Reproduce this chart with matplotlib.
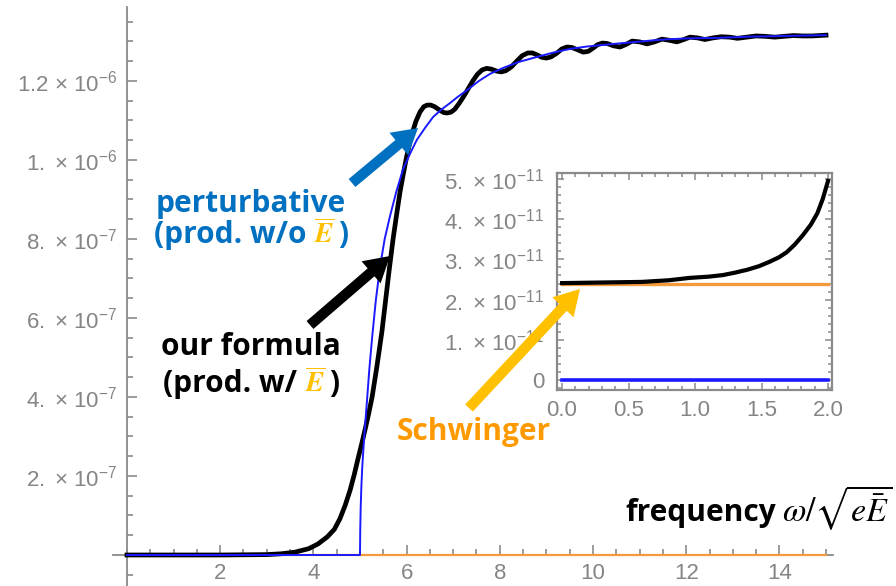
import matplotlib
matplotlib.use("Agg")
import matplotlib.pyplot as plt
import numpy as np
from matplotlib.patches import FancyArrowPatch
from matplotlib.ticker import FixedLocator, FixedFormatter, MultipleLocator

# ---------------------------------------------------------------- data
# pair-production rate vs. frequency omega/sqrt(eE)
formula_x = [0.0, 1.0, 2.0, 3.0, 3.3, 3.6, 3.9, 4.1, 4.3, 4.45, 4.57, 4.68,
             4.79, 4.88, 4.96, 5.04, 5.11, 5.19, 5.26, 5.36, 5.47, 5.55,
             5.63, 5.71, 5.79, 5.86, 5.93, 6.0, 6.1, 6.2, 6.29, 6.37, 6.44,
             6.52, 6.6, 6.7, 6.8, 6.87, 6.95, 7.03, 7.12, 7.22, 7.32, 7.42,
             7.52, 7.62, 7.72, 7.82, 7.93, 8.03, 8.13, 8.25, 8.37, 8.48, 8.6,
             8.7, 8.8, 8.9, 9.0, 9.1, 9.22, 9.33, 9.44, 9.54, 9.65, 9.79, 9.9,
             10.0, 10.1, 10.2, 10.3, 10.44, 10.58, 10.7, 10.84, 11.0, 11.16,
             11.32, 11.48, 11.64, 11.8, 11.95, 12.08, 12.25, 12.4, 12.57,
             12.75, 12.93, 13.1, 13.3, 13.5, 13.7, 13.9, 14.1, 14.3, 14.5,
             14.7, 15.0]
formula_y = [0.0, 0.0, 0.0, 0.001, 0.003, 0.007, 0.016, 0.028, 0.046, 0.065,
             0.092, 0.125, 0.165, 0.205, 0.245, 0.283, 0.318, 0.36, 0.40,
             0.475, 0.565, 0.645, 0.725, 0.80, 0.865, 0.92, 0.965, 1.008,
             1.06, 1.098, 1.122, 1.135, 1.139, 1.139, 1.135, 1.127, 1.12,
             1.119, 1.121, 1.128, 1.142, 1.16, 1.18, 1.20, 1.217, 1.228,
             1.232, 1.23, 1.225, 1.223, 1.226, 1.236, 1.251, 1.264, 1.271,
             1.271, 1.266, 1.26, 1.258, 1.261, 1.27, 1.281, 1.286, 1.285,
             1.28, 1.273, 1.275, 1.283, 1.292, 1.296, 1.295, 1.289, 1.286,
             1.292, 1.301, 1.299, 1.294, 1.299, 1.306, 1.303, 1.299, 1.305,
             1.311, 1.309, 1.305, 1.309, 1.312, 1.311, 1.308, 1.311, 1.314,
             1.313, 1.311, 1.313, 1.315, 1.314, 1.314, 1.316]

perturb_x = [0.0, 5.0, 5.005, 5.015, 5.03, 5.05, 5.08, 5.11, 5.15, 5.2,
             5.26, 5.34, 5.43, 5.53, 5.64, 5.78, 5.92, 6.07, 6.22, 6.4, 6.57,
             6.75, 6.93, 7.1, 7.3, 7.55, 7.79, 8.07, 8.4, 8.8, 9.15, 9.5,
             9.85, 10.2, 10.55, 10.94, 11.3, 11.65, 12.1, 12.66, 13.3, 14.08,
             15.0]
perturb_y = [0.0, 0.0, 0.06, 0.12, 0.175, 0.225, 0.28, 0.33, 0.39, 0.47,
             0.55, 0.645, 0.73, 0.80, 0.856, 0.92, 0.975, 1.015, 1.051,
             1.082, 1.109, 1.128, 1.144, 1.16, 1.177, 1.20, 1.218, 1.233,
             1.248, 1.261, 1.272, 1.281, 1.287, 1.291, 1.295, 1.299, 1.303,
             1.306, 1.308, 1.309, 1.312, 1.314, 1.316]
main_unit = 1e-6

schwinger_rate = 2.38e-11
main_range = [0.0, 15.0]

# low-frequency detail (units of 1e-11)
zoom_x = [0.0, 0.2, 0.4, 0.6, 0.8, 0.96, 1.1, 1.21, 1.3, 1.39, 1.48, 1.56,
          1.63, 1.69, 1.75, 1.81, 1.87, 1.92, 1.96, 2.0]
zoom_formula = [2.41, 2.42, 2.43, 2.44, 2.48, 2.54, 2.57, 2.61, 2.67, 2.74,
                2.83, 2.94, 3.05, 3.18, 3.37, 3.6, 3.86, 4.15, 4.5, 4.95]
zoom_perturb = [0.0] * len(zoom_x)
zoom_unit = 1e-11
zoom_range = [0.0, 2.0]

main_xticks = [2, 4, 6, 8, 10, 12, 14]
main_yticks = [2e-7, 4e-7, 6e-7, 8e-7, 1e-6, 1.2e-6]
main_ylabels = [r"$\mathregular{2.\ {\times}\ 10^{-7}}$",
                r"$\mathregular{4.\ {\times}\ 10^{-7}}$",
                r"$\mathregular{6.\ {\times}\ 10^{-7}}$",
                r"$\mathregular{8.\ {\times}\ 10^{-7}}$",
                r"$\mathregular{1.\ {\times}\ 10^{-6}}$",
                r"$\mathregular{1.2\ {\times}\ 10^{-6}}$"]
zoom_xticks = [0.0, 0.5, 1.0, 1.5, 2.0]
zoom_xlabels = ["0.0", "0.5", "1.0", "1.5", "2.0"]
zoom_yticks = [0.0, 1e-11, 2e-11, 3e-11, 4e-11, 5e-11]
zoom_ylabels = ["0"] + [r"$\mathregular{%d.\ {\times}\ 10^{-11}}$" % k
                        for k in range(1, 6)]

# ---------------------------------------------------------------- style
plt.rcParams["mathtext.fontset"] = "custom"
plt.rcParams["mathtext.rm"] = "Liberation Sans"
plt.rcParams["mathtext.it"] = "Liberation Sans:italic"
plt.rcParams["mathtext.bf"] = "Liberation Sans:bold"
plt.rcParams["font.family"] = ["Liberation Sans", "DejaVu Sans"]

BLACK = "#000000"
BLUE = "#1a1aff"
ORANGE = "#f39a3c"
AXIS = "#8a8a8a"
LABEL = "#858585"
TXT_BLUE = "#0070c0"
TXT_GOLD = "#ffc000"
TXT_ORANGE = "#ff9900"

W, H = 896, 586
fig = plt.figure(figsize=(W / 100, H / 100), dpi=100)


def box(l, t, r, b):
    return [l / W, 1 - b / H, (r - l) / W, (b - t) / H]


def fx(px):
    return px / W


def fy(py):
    return 1 - py / H


# ---------------------------------------------------------------- main plot
ax = fig.add_axes(box(113, 7, 833, 586))
ax.set_xlim(-0.30, 15.15)
ax.set_ylim(-0.0785e-6, 1.3873e-6)

ax.plot(main_range, [schwinger_rate] * 2, color=ORANGE, lw=1.6, zorder=2)
ax.plot(formula_x, np.array(formula_y) * main_unit, color=BLACK, lw=3.4,
        solid_joinstyle="round", zorder=3)
ax.plot(perturb_x, np.array(perturb_y) * main_unit, color=BLUE, lw=1.4,
        zorder=4)

for s in ("top", "right"):
    ax.spines[s].set_visible(False)
ax.spines["left"].set_position(("data", 0))
ax.spines["bottom"].set_position(("data", 0))
for s in ("left", "bottom"):
    ax.spines[s].set_color(AXIS)
    ax.spines[s].set_linewidth(1.3)
    ax.spines[s].set_zorder(1)

ax.xaxis.set_major_locator(FixedLocator(main_xticks))
ax.xaxis.set_major_formatter(FixedFormatter([str(v) for v in main_xticks]))
ax.xaxis.set_minor_locator(MultipleLocator(0.5))
ax.yaxis.set_major_locator(FixedLocator(main_yticks))
ax.yaxis.set_major_formatter(FixedFormatter(main_ylabels))
ax.yaxis.set_minor_locator(MultipleLocator(0.5e-7))
ax.tick_params(which="both", direction="in", color=AXIS, width=1.2,
               labelcolor=LABEL, labelsize=16)
ax.tick_params(which="major", length=7.5)
ax.tick_params(which="minor", length=4.5)
ax.tick_params(axis="x", pad=6)
ax.tick_params(axis="y", pad=7)
ax.set_facecolor("none")

# ---------------------------------------------------------------- inset
ins = fig.add_axes(box(557, 173, 832, 390))
ins.set_xlim(-0.038, 2.03)
ins.set_ylim(-0.25e-11, 5.15e-11)
ins.plot(zoom_range, [schwinger_rate] * 2, color=ORANGE, lw=2.4, zorder=2)
ins.plot(zoom_x, np.array(zoom_perturb) * zoom_unit, color=BLUE, lw=2.6,
         zorder=3)
ins.plot(zoom_x, np.array(zoom_formula) * zoom_unit, color=BLACK, lw=3.0,
         zorder=4)
for s in ins.spines.values():
    s.set_color(AXIS)
    s.set_linewidth(1.6)
ins.xaxis.set_major_locator(FixedLocator(zoom_xticks))
ins.xaxis.set_major_formatter(FixedFormatter(zoom_xlabels))
ins.xaxis.set_minor_locator(MultipleLocator(0.1))
ins.yaxis.set_major_locator(FixedLocator(zoom_yticks))
ins.yaxis.set_major_formatter(FixedFormatter(zoom_ylabels))
ins.yaxis.set_minor_locator(MultipleLocator(0.2e-11))
ins.tick_params(which="both", direction="in", color=AXIS, width=1.1,
                top=True, right=True, labelcolor=LABEL, labelsize=16)
ins.tick_params(which="major", length=5)
ins.tick_params(which="minor", length=3)
ins.tick_params(axis="x", pad=7)
ins.tick_params(axis="y", pad=9)

# ---------------------------------------------------------------- labels
renderer = fig.canvas.get_renderer()
BOLD = dict(family=["Open Sans", "DejaVu Sans"], fontweight="bold",
            fontsize=21.5)
EBAR = dict(math_fontfamily="stix", fontsize=19.5)


def rich_line(x, y_base, pieces, align="center"):
    """Place coloured pieces side by side on one baseline."""
    arts, gaps = [], []
    for s, kw, gap in pieces:
        arts.append(fig.text(0, fy(y_base), s, va="baseline", ha="left",
                             **kw))
        gaps.append(gap)
    widths = [a.get_window_extent(renderer).width for a in arts]
    total = sum(widths) + sum(gaps)
    start = x - total / 2 if align == "center" else x - total
    for a, w, g in zip(arts, widths, gaps):
        a.set_x(fx(start))
        start += w + g


E_BAR = r"$\overline{\boldsymbol{E}}$"
rich_line(251, 212, [("perturbative", dict(color=TXT_BLUE, **BOLD), 0)])
rich_line(251, 243, [("(prod. w/o", dict(color=TXT_BLUE, **BOLD), 8),
                     (E_BAR, dict(color=TXT_GOLD, **EBAR), 3),
                     (")", dict(color=TXT_BLUE, **BOLD), 0)])
rich_line(251, 355, [("our formula", dict(color=BLACK, **BOLD), 0)])
rich_line(251, 392, [("(prod. w/", dict(color=BLACK, **BOLD), 8),
                     (E_BAR, dict(color=TXT_GOLD, **EBAR), 3),
                     (")", dict(color=BLACK, **BOLD), 0)])
rich_line(474, 440, [("Schwinger", dict(color=TXT_ORANGE, **BOLD), 0)])
rich_line(893, 521, [("frequency", dict(color=BLACK, **BOLD), 6),
                     (r"$\omega/\sqrt{e\bar{E}}$",
                      dict(color=BLACK, math_fontfamily="stix",
                           fontsize=24.5), 0)],
          align="right")

# ---------------------------------------------------------------- arrows
arrow_style = "simple,head_length=18,head_width=21,tail_width=7.5"
for (x0, y0), (x1, y1), col in [((352, 183), (418, 128), TXT_BLUE),
                                ((310, 325), (390, 256), BLACK),
                                ((469, 408), (580, 289), TXT_GOLD)]:
    fig.add_artist(FancyArrowPatch((fx(x0), fy(y0)), (fx(x1), fy(y1)),
                                   transform=fig.transFigure,
                                   arrowstyle=arrow_style, mutation_scale=1,
                                   color=col, lw=0, shrinkA=0, shrinkB=0,
                                   zorder=5))

fig.savefig("out.png", dpi=100)
